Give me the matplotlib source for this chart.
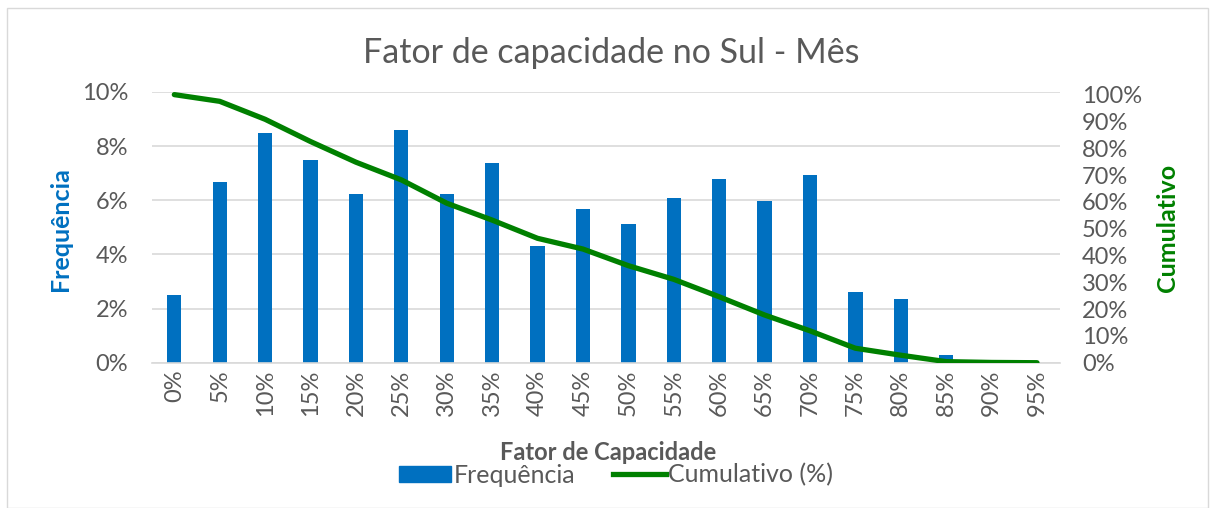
import matplotlib
matplotlib.use("Agg")
import matplotlib.pyplot as plt
from matplotlib.patches import Rectangle, Patch
from matplotlib.lines import Line2D
import numpy as np

categories = ["0%", "5%", "10%", "15%", "20%", "25%", "30%", "35%", "40%", "45%",
              "50%", "55%", "60%", "65%", "70%", "75%", "80%", "85%", "90%", "95%"]
frequencia = [2.49, 6.66, 8.48, 7.48, 6.24, 8.60, 6.24, 7.36, 4.31, 5.68,
              5.12, 6.10, 6.80, 5.97, 6.93, 2.63, 2.35, 0.27, 0.0, 0.0]
cumulativo = [100.0, 97.5, 90.8, 82.5, 74.8, 68.2, 59.5, 53.2, 46.4, 42.4,
              36.2, 31.1, 24.6, 17.8, 11.9, 5.4, 2.8, 0.4, 0.1, 0.0]
left_ticks = [0, 2, 4, 6, 8, 10]
right_ticks = [0, 10, 20, 30, 40, 50, 60, 70, 80, 90, 100]

plt.rcParams['font.family'] = ['Lato', 'DejaVu Sans']
GRAY = "#595959"
BLUE = "#0070C0"
GREEN = "#008000"
W, H = 1213, 508

fig = plt.figure(figsize=(W / 100, H / 100), dpi=100)
fig.patches.append(Rectangle((0.006, 0.0), 0.99, 0.985, transform=fig.transFigure,
                             fill=False, edgecolor="#D9D9D9", linewidth=1))

ax = fig.add_axes([0.125, 0.286, 0.7486, 0.533])
x = np.arange(len(categories))
ax.bar(x, frequencia, width=0.315, color=BLUE, zorder=2)
ax.set_xlim(-0.5, len(categories) - 0.5)
ax.set_ylim(0, 10)
ax.set_yticks(left_ticks)
ax.set_yticklabels([f"{t}%" for t in left_ticks], fontsize=17, color=GRAY)
ax.set_xticks(x)
ax.set_xticklabels(categories, rotation=90, fontsize=17, color=GRAY)
ax.yaxis.grid(True, color="#D9D9D9", linewidth=1.2, zorder=0)
ax.set_axisbelow(True)
for s in ["top", "right", "left"]:
    ax.spines[s].set_visible(False)
ax.spines["bottom"].set_color("#D9D9D9")
ax.spines["bottom"].set_linewidth(1.2)
ax.tick_params(axis="y", length=0, pad=17)
ax.tick_params(axis="x", length=0, pad=5)

ax2 = ax.twinx()
ax2.plot(x, cumulativo, color=GREEN, linewidth=3.8, solid_capstyle="round", zorder=3)
ax2.set_ylim(0, 101)
ax2.set_yticks(right_ticks)
ax2.set_yticklabels([f"{t}%" for t in right_ticks], fontsize=17, color=GRAY)
for s in ["top", "right", "left", "bottom"]:
    ax2.spines[s].set_visible(False)
ax2.tick_params(axis="y", length=0, pad=16)

fig.text(60 / W, 1 - 229 / H, "Frequência", rotation=90, ha="center", va="center",
         fontsize=18, fontweight="bold", color=BLUE)
fig.text(1168 / W, 1 - 228 / H, "Cumulativo", rotation=90, ha="center", va="center",
         fontsize=18, fontweight="bold", color=GREEN)
fig.text(608 / W, 1 - 452 / H, "Fator de Capacidade", ha="center", va="center",
         fontsize=17, fontweight="bold", color=GRAY)
fig.text(611 / W, 1 - 53 / H, "Fator de capacidade no Sul - Mês", ha="center", va="center",
         fontsize=24.5, color=GRAY)

handles = [Patch(facecolor=BLUE, edgecolor=BLUE),
           Line2D([0], [0], color=GREEN, linewidth=3.8)]
fig.legend(handles, ["Frequência", "Cumulativo (%)"], loc="center",
           bbox_to_anchor=(616 / W, 1 - 475 / H), ncol=2, frameon=False, fontsize=18,
           labelcolor=GRAY, handlelength=2.1, handleheight=0.6, handletextpad=0.1,
           columnspacing=1.5, borderpad=0.1)

fig.savefig("out.png", dpi=100)
